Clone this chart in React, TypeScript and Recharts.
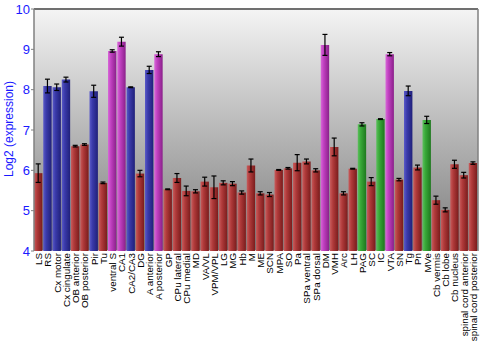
import React from 'react';
import { BarChart, Bar, XAxis, YAxis, CartesianGrid, ErrorBar, Cell, ReferenceLine } from 'recharts';

const categories = ['LS','RS','Cx motor','Cx cingulate','OB anterior','OB posterior','Pir','Tu','ventral S','CA1','CA2/CA3','DG','A anterior','A posterior','GP','CPu lateral','CPu medial','MD','VA/VL','VPM/VPL','LG','MG','Hb','M','ME','SCN','MPA','SO','Pa','SPa ventral','SPa dorsal','DM','VMH','Arc','LH','PAG','SC','IC','VTA','SN','Tg','Pn','MVe','Cb vermis','Cb lobe','Cb nucleus','spinal cord anterior','spinal cord posterior'];
const values = [5.93,8.09,8.06,8.25,6.60,6.64,7.96,5.69,8.96,9.19,8.06,5.92,8.49,8.88,5.53,5.81,5.49,5.48,5.72,5.58,5.69,5.67,5.45,6.12,5.43,5.40,6.01,6.05,6.19,6.22,6.00,9.11,6.58,5.43,6.04,7.14,5.72,7.27,8.88,5.77,7.97,6.07,7.25,5.26,5.02,6.15,5.88,6.18];
const errors = [0.23,0.17,0.08,0.06,0.02,0.02,0.15,0.02,0.03,0.11,0.01,0.08,0.09,0.06,0.01,0.11,0.12,0.04,0.11,0.28,0.05,0.05,0.04,0.16,0.04,0.05,0.01,0.02,0.2,0.06,0.04,0.26,0.22,0.04,0.01,0.04,0.1,0.01,0.04,0.03,0.12,0.06,0.09,0.1,0.05,0.1,0.07,0.03];
const groups = ['r','b','b','b','r','r','b','r','p','p','b','r','b','p','r','r','r','r','r','r','r','r','r','r','r','r','r','r','r','r','r','p','r','r','r','g','r','g','p','r','b','r','g','r','r','r','r','r'];
const yTicks = [4,5,6,7,8,9,10];

const data = categories.map((name, i) => ({ name, value: values[i], err: errors[i], group: groups[i] }));

const gradients: Record<string, string[]> = {
  r: ['#c85c5c', '#b03a3a', '#7a1c1c'],
  b: ['#5a5ac8', '#3a3aaa', '#20207a'],
  p: ['#d868d8', '#c040c0', '#8a208a'],
  g: ['#5cc05c', '#38a838', '#1e781e'],
};

const CatTick = (props: any) => {
  const { x, payload } = props;
  const yy = 253;
  return (
    <text x={x} y={yy} dy={3.5} transform={`rotate(-90 ${x} ${yy})`} textAnchor="end" fill="#000" fontSize={9.8} fontFamily="Liberation Sans, Arial, sans-serif">
      {payload.value}
    </text>
  );
};

const YLabel = () => (
  <text x={13} y={129} transform="rotate(-90 13 129)" textAnchor="middle" fill="#1a1aff" fontSize={12} fontFamily="Liberation Sans, Arial, sans-serif">
    Log2 (expression)
  </text>
);

export default function App() {
  return (
    <div style={{ position: 'absolute', left: 0, top: 0, width: 500, height: 350, background: '#fff' }}>
      <BarChart width={500} height={350} data={data} margin={{ top: 9, right: 0, left: 0, bottom: 0 }} barSize={8.4}>
        <defs>
          <linearGradient id="bg" x1="0" y1="0" x2="0" y2="1">
            <stop offset="0%" stopColor="#f4f4f4" />
            <stop offset="100%" stopColor="#7c7c7c" />
          </linearGradient>
          {Object.keys(gradients).map((k) => (
            <linearGradient key={k} id={`g-${k}`} x1="0" y1="0" x2="1" y2="0">
              <stop offset="0%" stopColor={gradients[k][0]} />
              <stop offset="35%" stopColor={gradients[k][1]} />
              <stop offset="100%" stopColor={gradients[k][2]} />
            </linearGradient>
          ))}
        </defs>
        <CartesianGrid vertical={false} fill="url(#bg)" stroke="#ffffff" strokeWidth={1.5} />
        <XAxis dataKey="name" interval={0} axisLine={false} tickLine={false} height={99} tick={<CatTick />} />
        <YAxis yAxisId="left" domain={[4, 10]} ticks={yTicks} width={34} tickSize={3} tickMargin={1}
          axisLine={{ stroke: '#808080', strokeWidth: 1.5 }} tickLine={{ stroke: '#808080' }}
          tick={{ fill: '#1a1aff', fontSize: 13, fontFamily: 'Liberation Sans, Arial, sans-serif' }}
          label={<YLabel />} />
        <YAxis yAxisId="right" orientation="right" domain={[4, 10]} ticks={yTicks} width={22} tickSize={3} tickMargin={1}
          axisLine={{ stroke: '#808080', strokeWidth: 1.5 }} tickLine={{ stroke: '#808080' }}
          tick={{ fill: '#1a1aff', fontSize: 13, fontFamily: 'Liberation Sans, Arial, sans-serif' }} />
        <ReferenceLine yAxisId="left" y={10} stroke="#707070" strokeWidth={2} />
        <Bar yAxisId="left" dataKey="value" isAnimationActive={false}>
          {data.map((d, i) => (
            <Cell key={i} fill={`url(#g-${d.group})`} />
          ))}
          <ErrorBar dataKey="err" direction="y" width={2.5} stroke="#000" strokeWidth={1.2} />
        </Bar>
      </BarChart>
    </div>
  );
}
